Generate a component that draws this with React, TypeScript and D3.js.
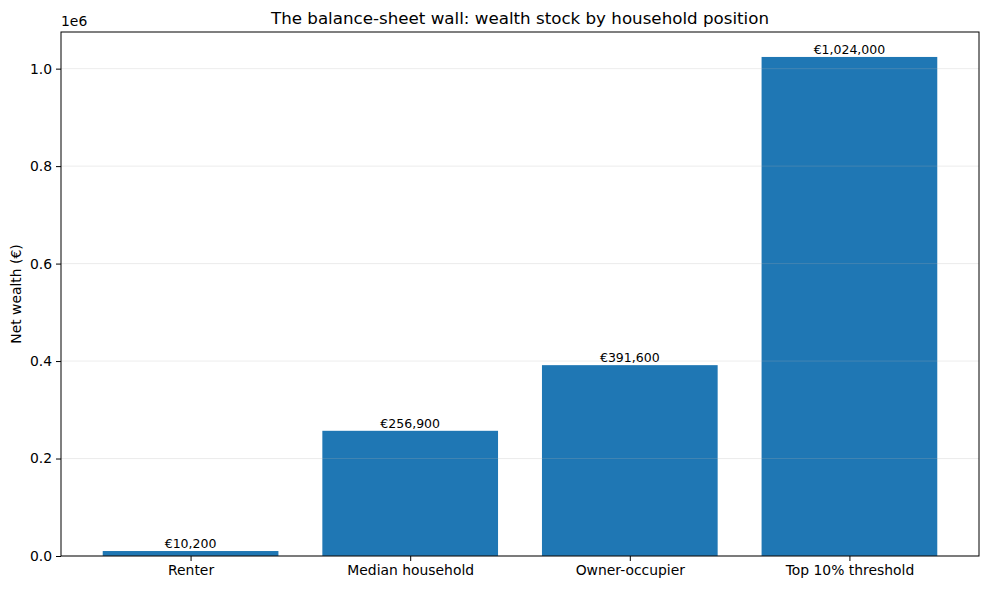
import { useEffect, useRef } from 'react'
import * as d3 from 'd3'

const categories = ['Renter', 'Median household', 'Owner-occupier', 'Top 10% threshold']
const wealth = [10200, 256900, 391600, 1024000]
const yTicks = [0, 0.2e6, 0.4e6, 0.6e6, 0.8e6, 1.0e6]

const W = 989
const H = 590
const margin = { top: 32, right: 10, bottom: 34, left: 61 }

export default function App() {
  const svgRef = useRef<SVGSVGElement>(null)

  useEffect(() => {
    if (!svgRef.current) return
    const svg = d3.select(svgRef.current)
    svg.selectAll('*').remove()

    const innerWidth = W - margin.left - margin.right
    const innerHeight = H - margin.top - margin.bottom
    const font = 'DejaVu Sans, sans-serif'

    // matplotlib-like limits: bars of width 0.8 with 5% margins
    const n = categories.length
    const span = (n - 1) + 0.8
    const pad = span * 0.05
    const xScale = d3.scaleLinear()
      .domain([-0.4 - pad, n - 1 + 0.4 + pad])
      .range([0, innerWidth])

    const yMax = d3.max(wealth) || 0
    const yScale = d3.scaleLinear()
      .domain([0, yMax * 1.05])
      .range([innerHeight, 0])

    const g = svg.append('g')
      .attr('transform', `translate(${margin.left},${margin.top})`)

    // bars
    g.selectAll('.bar')
      .data(wealth)
      .enter().append('rect')
      .attr('class', 'bar')
      .attr('x', (_d, i) => xScale(i - 0.4))
      .attr('width', xScale(0.4) - xScale(-0.4))
      .attr('y', d => yScale(d))
      .attr('height', d => innerHeight - yScale(d))
      .attr('fill', '#1f77b4')

    // grid on top, faint
    g.selectAll('.grid')
      .data(yTicks)
      .enter().append('line')
      .attr('x1', 0)
      .attr('x2', innerWidth)
      .attr('y1', d => yScale(d))
      .attr('y2', d => yScale(d))
      .attr('stroke', '#b0b0b0')
      .attr('stroke-opacity', 0.3)
      .attr('stroke-width', 0.8)

    // value labels
    g.selectAll('.val')
      .data(wealth)
      .enter().append('text')
      .attr('x', (_d, i) => xScale(i))
      .attr('y', d => yScale(d) - 3)
      .attr('text-anchor', 'middle')
      .style('font-family', font)
      .style('font-size', '12.5px')
      .style('fill', '#000')
      .text(d => '€' + d3.format(',')(d))

    // frame
    g.append('rect')
      .attr('width', innerWidth)
      .attr('height', innerHeight)
      .attr('fill', 'none')
      .attr('stroke', '#000')
      .attr('stroke-width', 1)

    // y axis
    const yAxis = g.append('g')
      .call(d3.axisLeft(yScale)
        .tickValues(yTicks)
        .tickSize(5)
        .tickPadding(4)
        .tickFormat(d => (Number(d) / 1e6).toFixed(1)))
    yAxis.select('.domain').remove()
    yAxis.selectAll('text')
      .style('font-family', font)
      .style('font-size', '13.9px')
      .style('fill', '#000')

    // x axis
    const xAxis = g.append('g')
      .attr('transform', `translate(0,${innerHeight})`)
      .call(d3.axisBottom(xScale)
        .tickValues(d3.range(n))
        .tickSize(5)
        .tickPadding(4)
        .tickFormat(i => categories[Number(i)]))
    xAxis.select('.domain').remove()
    xAxis.selectAll('text')
      .style('font-family', font)
      .style('font-size', '13.9px')
      .style('fill', '#000')

    // offset text
    g.append('text')
      .attr('x', 0)
      .attr('y', -6)
      .style('font-family', font)
      .style('font-size', '13.9px')
      .text('1e6')

    // y label
    g.append('text')
      .attr('transform', `translate(${-40},${innerHeight / 2}) rotate(-90)`)
      .attr('text-anchor', 'middle')
      .style('font-family', font)
      .style('font-size', '13.9px')
      .text('Net wealth (€)')

    // title
    svg.append('text')
      .attr('x', margin.left + innerWidth / 2)
      .attr('y', margin.top - 8)
      .attr('text-anchor', 'middle')
      .style('font-family', font)
      .style('font-size', '16.7px')
      .text('The balance-sheet wall: wealth stock by household position')
  }, [])

  return (
    <svg ref={svgRef} width={W} height={H}
      style={{ position: 'absolute', left: 0, top: 0, background: '#fff' }} />
  )
}
